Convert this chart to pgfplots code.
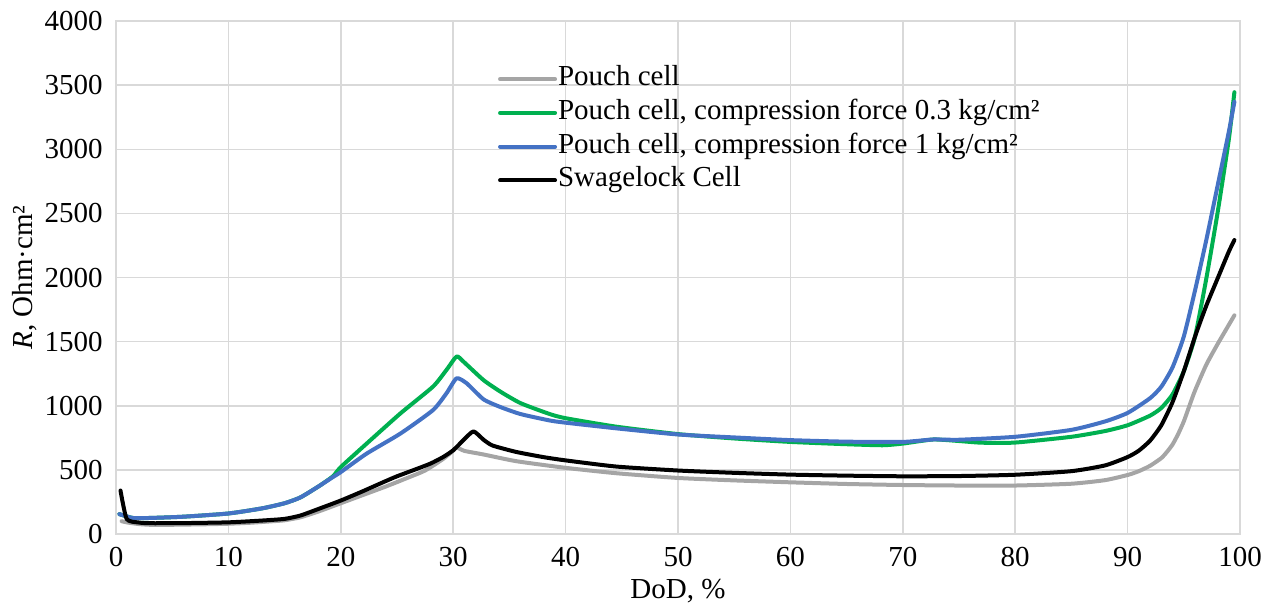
\documentclass[border=0pt]{standalone}
\usepackage{fontspec}
\setmainfont{Liberation Serif}
\usepackage{pgfplots}
\pgfplotsset{compat=1.18}
\definecolor{cgray}{HTML}{A5A5A5}
\definecolor{cgreen}{HTML}{00B050}
\definecolor{cblue}{HTML}{4472C4}
\definecolor{cgrid}{HTML}{D9D9D9}
\begin{document}
\begin{tikzpicture}
\begin{axis}[
  at={(0pt,0pt)}, anchor=south west,
  width=562pt, height=256.5pt, scale only axis,
  xmin=0, xmax=100, ymin=0, ymax=4000,
  xtick={0,10,...,100}, ytick={0,500,...,4000},
  scaled y ticks=false,
  /pgf/number format/1000 sep={},
  /pgf/number format/assume math mode=true,
  grid=major,
  major grid style={color=cgrid, line width=0.75pt},
  axis line style={color=cgrid, line width=0.75pt},
  major tick length=0pt,
  tick style={draw=none},
  ticklabel style={font=\fontsize{14.5}{17}\selectfont},
  xticklabel style={inner sep=0pt, yshift=-6.5pt},
  yticklabel style={inner sep=0pt, xshift=-6.5pt},
  label style={font=\fontsize{14.5}{17}\selectfont},
  xlabel={DoD, \%},
  ylabel={\textit{R}, Ohm·cm²},
  xlabel style={at={(axis description cs:0.5,-0.0877)}, anchor=north, inner sep=0pt},
  ylabel style={at={(axis description cs:-0.0703,0.5)}, anchor=south, inner sep=0pt},
  legend style={draw=none, fill=none, at={(axis description cs:0.3399,0.9129)}, anchor=north west,
    inner sep=0pt, outer sep=0pt, row sep=3.35pt, column sep=0.5pt,
    font=\fontsize{14.5}{17}\selectfont,
    nodes={inner sep=0pt, text height=10pt, text depth=3.5pt}},
  legend cell align=left,
  legend image code/.code={\draw[#1] (0pt,0pt) -- (27.5pt,0pt);},
  every axis plot/.append style={line width=2pt, line join=round, line cap=round, smooth, tension=0.35},
]
\addplot[cgray] coordinates {
(0.5,100) (1,90) (2,78) (3,72) (5,72) (8,76) (10,80) (12,88) (14,100) (15,107) (16.4,130) (18,175) (20,240) (22,305) (24,370) (26,440) (27.5,495) (29.1,585) (30,650) (30.3,675) (31,648) (32.7,620) (35.6,568) (40,516) (44.5,474) (50,437) (55,418) (60,403) (65,390) (70,382) (75,378) (80,378) (85,392) (88,420) (90,460) (91,490) (92,532) (93,592) (93.5,640) (94,698) (94.5,780) (95,878) (95.5,1000) (96,1119) (97,1320) (98,1480) (99,1630) (99.5,1705)
};
\addlegendentry{Pouch cell}
\addplot[cgreen] coordinates {
(0.3,155) (1.5,125) (3,125) (6,135) (10,160) (13,200) (15,240) (16.4,285) (18,370) (19.3,450) (20,522) (22.3,705) (25.3,940) (28.2,1149) (29.4,1279) (30.3,1384) (30.9,1345) (32.7,1200) (34.2,1110) (36,1020) (38.6,935) (40,903) (44.5,837) (50,779) (55,745) (60,718) (65,700) (68.2,692) (70,705) (72.7,737) (75,725) (77,712) (80,713) (85,758) (88,803) (90,848) (92,923) (93,983) (94,1089) (95,1269) (96,1540) (97,1991) (98,2502) (99,3074) (99.5,3445)
};
\addlegendentry{Pouch cell, compression force 0.3 kg/cm²}
\addplot[cblue] coordinates {
(0.3,155) (1.5,125) (3,125) (6,135) (10,160) (13,200) (15,240) (16.4,285) (18,370) (19.3,444) (20,483) (22.3,627) (25.3,783) (28.2,966) (29.4,1097) (30.3,1214) (31.2,1175) (32.7,1050) (34.2,990) (36,935) (38.6,885) (40,868) (44.5,824) (50,776) (55,753) (60,732) (65,720) (70,718) (72.7,737) (75,735) (80,758) (85,812) (88,878) (90,944) (92,1059) (93,1149) (94,1300) (95,1540) (96,1900) (97,2292) (98,2713) (99,3134) (99.5,3370)
};
\addlegendentry{Pouch cell, compression force 1 kg/cm²}
\addplot[black] coordinates {
(0.4,339) (0.95,117) (2,90) (3,84) (6,85) (10,91) (13,105) (15,118) (16.4,144) (18,195) (20,261) (22,335) (23.8,405) (25,450) (26.8,509) (28,550) (29.1,600) (30,653) (30.9,731) (31.8,800) (32.7,735) (33.5,690) (35.6,640) (38,600) (40,574) (44.5,526) (50,495) (55,477) (60,463) (65,455) (70,450) (75,452) (80,462) (85,490) (88,535) (90,600) (91,650) (92,728) (93,848) (94,1029) (95,1269) (96,1540) (97,1780) (98,1991) (99,2201) (99.5,2292)
};
\addlegendentry{Swagelock Cell}
\end{axis}
\pgfresetboundingbox
\path (-58pt,-36pt) rectangle (579pt,267pt);
\end{tikzpicture}
\end{document}
